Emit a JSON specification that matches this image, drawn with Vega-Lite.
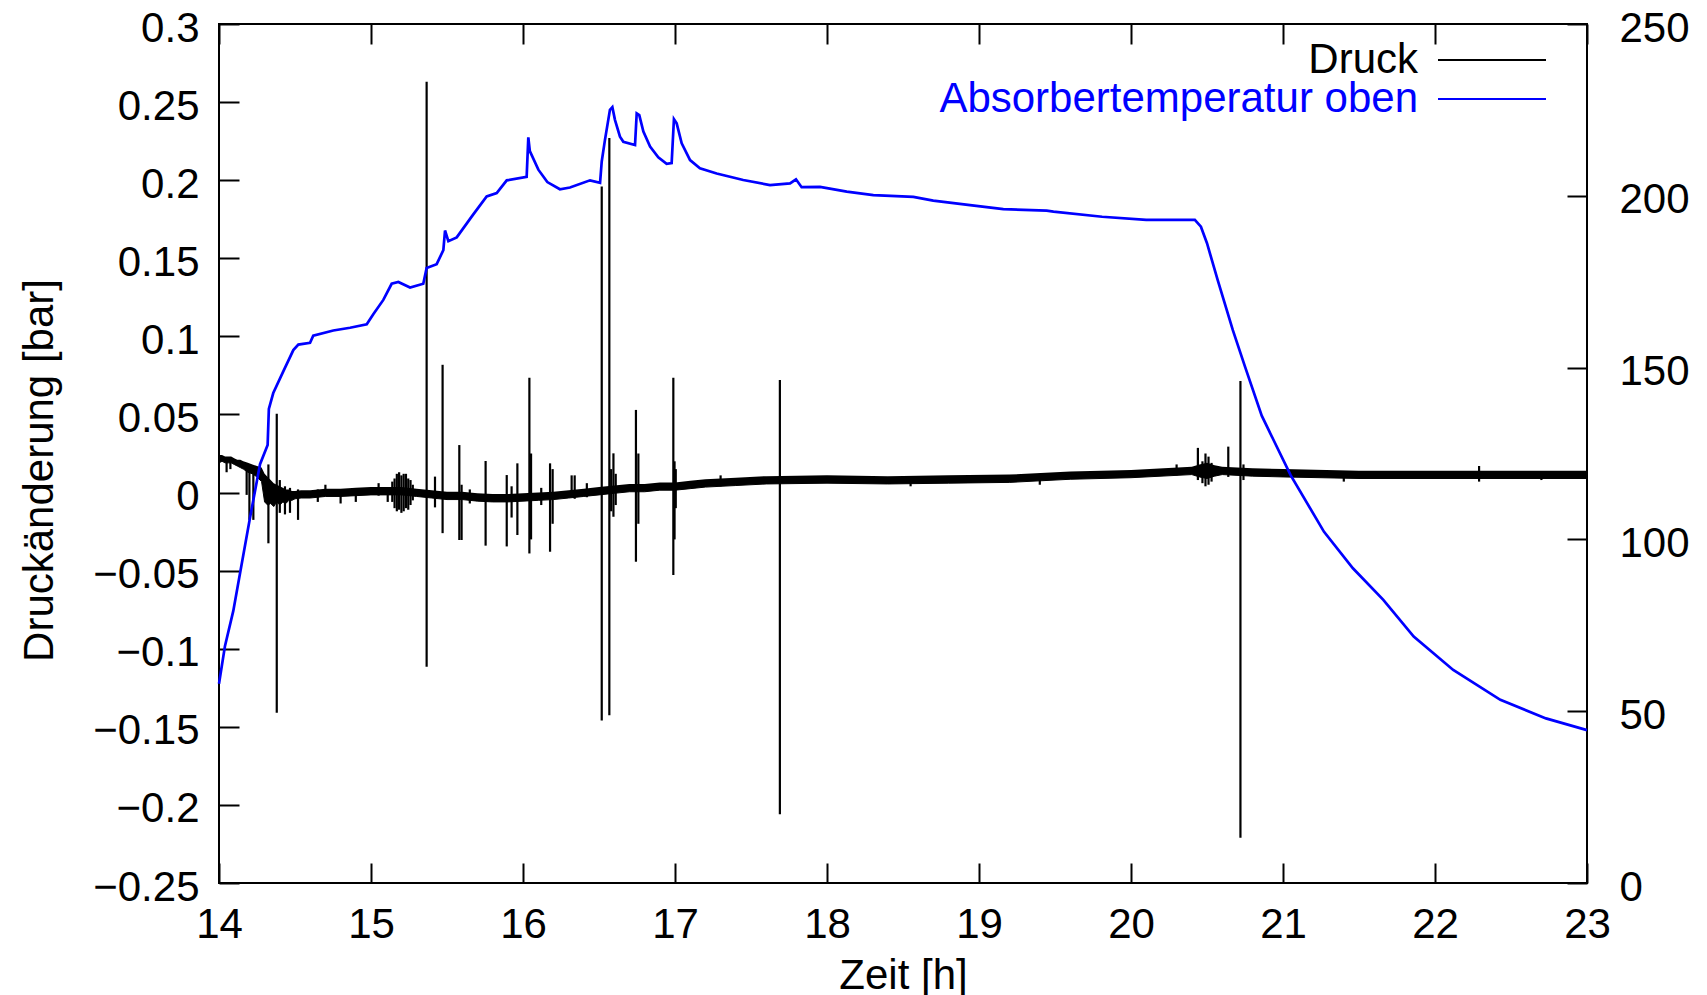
{
  "$schema": "https://vega.github.io/schema/vega-lite/v6.json",
  "width": 1368,
  "height": 859,
  "autosize": {"type": "none"},
  "padding": {"left": 219, "top": 24, "right": 120, "bottom": 112},
  "background": "white",
  "config": {
    "view": {"stroke": "black", "strokeWidth": 2},
    "font": "Liberation Sans",
    "axis": {
      "labelFont": "Liberation Sans", "labelFontSize": 42, "labelColor": "black",
      "titleFont": "Liberation Sans", "titleFontSize": 42, "titleFontWeight": "normal", "titleColor": "black",
      "tickColor": "black", "tickWidth": 2, "tickSize": -20,
      "domain": false, "grid": false, "labelOverlap": false, "labelFlush": false, "labelBound": false
    },
    "legend": {
      "orient": "none", "title": null, "symbolType": "M-10,0L10,0", "symbolSize": 116.64, "symbolStrokeWidth": 2,
      "labelFont": "Liberation Sans", "labelFontSize": 42, "labelAlign": "right", "labelOffset": -95,
      "labelBaseline": "middle", "padding": 0, "labelLimit": 800
    }
  },
  "datasets": {
    "band": [
      {"t":14.000,"lo":0.019,"hi":0.024},{"t":14.020,"lo":0.020,"hi":0.024},{"t":14.040,"lo":0.019,"hi":0.023},
      {"t":14.060,"lo":0.019,"hi":0.023},{"t":14.080,"lo":0.019,"hi":0.023},{"t":14.100,"lo":0.018,"hi":0.022},
      {"t":14.120,"lo":0.017,"hi":0.021},{"t":14.140,"lo":0.016,"hi":0.021},{"t":14.160,"lo":0.015,"hi":0.020},
      {"t":14.190,"lo":0.013,"hi":0.019},{"t":14.220,"lo":0.012,"hi":0.018},{"t":14.250,"lo":0.010,"hi":0.017},
      {"t":14.280,"lo":0.007,"hi":0.016},{"t":14.300,"lo":-0.006,"hi":0.012},{"t":14.320,"lo":-0.008,"hi":0.010},
      {"t":14.340,"lo":-0.007,"hi":0.008},{"t":14.360,"lo":-0.009,"hi":0.006},{"t":14.380,"lo":-0.006,"hi":0.005},
      {"t":14.400,"lo":-0.008,"hi":0.004},{"t":14.420,"lo":-0.006,"hi":0.003},{"t":14.440,"lo":-0.007,"hi":0.002},
      {"t":14.460,"lo":-0.005,"hi":0.002},{"t":14.480,"lo":-0.005,"hi":0.001},{"t":14.500,"lo":-0.004,"hi":0.001},
      {"t":14.540,"lo":-0.0035,"hi":0.0015},{"t":14.600,"lo":-0.0035,"hi":0.0015},{"t":14.700,"lo":-0.0025,"hi":0.0025},
      {"t":14.800,"lo":-0.0025,"hi":0.0025},{"t":14.900,"lo":-0.002,"hi":0.003},{"t":15.000,"lo":-0.0015,"hi":0.0035},
      {"t":15.100,"lo":-0.0015,"hi":0.0035},{"t":15.200,"lo":-0.0015,"hi":0.0035},{"t":15.300,"lo":-0.0025,"hi":0.0025},
      {"t":15.400,"lo":-0.0035,"hi":0.0015},
      {"t":15.500,"lo":-0.0045,"hi":0.0005},{"t":15.600,"lo":-0.0045,"hi":0.0005},{"t":15.700,"lo":-0.0055,"hi":-0.0005},
      {"t":15.800,"lo":-0.006,"hi":-0.001},{"t":15.900,"lo":-0.006,"hi":-0.001},{"t":16.000,"lo":-0.0055,"hi":-0.0005},
      {"t":16.100,"lo":-0.005,"hi":0.000},{"t":16.200,"lo":-0.0045,"hi":0.0005},{"t":16.300,"lo":-0.0035,"hi":0.0015},
      {"t":16.400,"lo":-0.0025,"hi":0.0025},{"t":16.500,"lo":-0.0015,"hi":0.0035},{"t":16.600,"lo":-0.0005,"hi":0.0045},
      {"t":16.700,"lo":0.0005,"hi":0.0055},{"t":16.800,"lo":0.0005,"hi":0.0055},{"t":16.900,"lo":0.0015,"hi":0.0065},
      {"t":17.000,"lo":0.0015,"hi":0.0065},{"t":17.100,"lo":0.0025,"hi":0.0075},{"t":17.200,"lo":0.0035,"hi":0.0085},
      {"t":17.400,"lo":0.0045,"hi":0.0095},{"t":17.600,"lo":0.0055,"hi":0.0105},{"t":18.000,"lo":0.006,"hi":0.011},
      {"t":18.400,"lo":0.0055,"hi":0.0105},{"t":18.800,"lo":0.006,"hi":0.011},{"t":19.200,"lo":0.0065,"hi":0.0115},
      {"t":19.600,"lo":0.0085,"hi":0.0135},{"t":20.000,"lo":0.0095,"hi":0.0145},{"t":20.400,"lo":0.0115,"hi":0.0165},
      {"t":20.450,"lo":0.010,"hi":0.018},{"t":20.500,"lo":0.009,"hi":0.019},{"t":20.550,"lo":0.0105,"hi":0.0175},
      {"t":20.600,"lo":0.0115,"hi":0.0165},{"t":20.800,"lo":0.0105,"hi":0.0155},{"t":21.000,"lo":0.010,"hi":0.015},
      {"t":21.500,"lo":0.009,"hi":0.014},{"t":22.000,"lo":0.009,"hi":0.014},{"t":23.000,"lo":0.009,"hi":0.014}
    ],
    "spikes": [
      {"t":14.050,"lo":0.013,"hi":0.022},{"t":14.075,"lo":0.015,"hi":0.022},{"t":14.182,"lo":-0.0015,"hi":0.018},
      {"t":14.200,"lo":-0.0175,"hi":0.016},{"t":14.226,"lo":-0.0175,"hi":0.015},{"t":14.325,"lo":-0.0325,"hi":0.018},
      {"t":14.380,"lo":-0.141,"hi":0.0505},{"t":14.400,"lo":-0.013,"hi":0.008},{"t":14.434,"lo":-0.014,"hi":0.004},
      {"t":14.467,"lo":-0.013,"hi":0.003},{"t":14.520,"lo":-0.0175,"hi":0.002},{"t":14.650,"lo":-0.006,"hi":0.002},
      {"t":14.700,"lo":-0.002,"hi":0.005},{"t":14.800,"lo":-0.007,"hi":0.002},{"t":14.900,"lo":-0.006,"hi":0.002},
      {"t":15.050,"lo":-0.002,"hi":0.006},{"t":15.110,"lo":-0.006,"hi":0.003},
      {"t":15.140,"lo":-0.006,"hi":0.007},{"t":15.155,"lo":-0.010,"hi":0.009},{"t":15.170,"lo":-0.012,"hi":0.012},
      {"t":15.185,"lo":-0.011,"hi":0.013},{"t":15.200,"lo":-0.013,"hi":0.011},{"t":15.215,"lo":-0.012,"hi":0.012},
      {"t":15.230,"lo":-0.010,"hi":0.012},{"t":15.245,"lo":-0.011,"hi":0.009},{"t":15.260,"lo":-0.008,"hi":0.008},
      {"t":15.275,"lo":-0.005,"hi":0.005},
      {"t":15.366,"lo":-0.1115,"hi":0.263},{"t":15.421,"lo":-0.0095,"hi":0.0102},
      {"t":15.471,"lo":-0.026,"hi":0.0818},{"t":15.581,"lo":-0.0304,"hi":0.0304},{"t":15.596,"lo":-0.0304,"hi":0.005},
      {"t":15.650,"lo":-0.007,"hi":0.002},
      {"t":15.754,"lo":-0.034,"hi":0.0202},{"t":15.893,"lo":-0.0345,"hi":0.0112},{"t":15.925,"lo":-0.016,"hi":0.004},
      {"t":15.963,"lo":-0.0272,"hi":0.0187},{"t":16.042,"lo":-0.039,"hi":0.0735},{"t":16.053,"lo":-0.030,"hi":0.025},
      {"t":16.120,"lo":-0.008,"hi":0.003},
      {"t":16.178,"lo":-0.0379,"hi":0.0187},{"t":16.195,"lo":-0.020,"hi":0.015},{"t":16.320,"lo":-0.003,"hi":0.011},
      {"t":16.340,"lo":-0.004,"hi":0.011},{"t":16.420,"lo":-0.003,"hi":0.006},
      {"t":16.518,"lo":-0.146,"hi":0.196},{"t":16.568,"lo":-0.1426,"hi":0.227},
      {"t":16.580,"lo":-0.012,"hi":0.015},{"t":16.595,"lo":-0.0155,"hi":0.0251},{"t":16.610,"lo":-0.008,"hi":0.012},
      {"t":16.743,"lo":-0.0443,"hi":0.0529},{"t":16.759,"lo":-0.020,"hi":0.025},
      {"t":16.989,"lo":-0.0528,"hi":0.0735},{"t":16.997,"lo":-0.030,"hi":0.020},{"t":17.005,"lo":-0.010,"hi":0.015},
      {"t":17.300,"lo":0.004,"hi":0.011},{"t":17.690,"lo":-0.206,"hi":0.072},{"t":18.550,"lo":0.004,"hi":0.010},
      {"t":19.400,"lo":0.005,"hi":0.012},{"t":20.300,"lo":0.011,"hi":0.018},
      {"t":20.440,"lo":0.008,"hi":0.0286},{"t":20.470,"lo":0.006,"hi":0.020},{"t":20.490,"lo":0.004,"hi":0.025},
      {"t":20.510,"lo":0.005,"hi":0.023},{"t":20.530,"lo":0.007,"hi":0.019},
      {"t":20.640,"lo":0.010,"hi":0.0294},{"t":20.720,"lo":-0.221,"hi":0.0714},{"t":20.740,"lo":0.008,"hi":0.018},
      {"t":21.400,"lo":0.007,"hi":0.013},{"t":22.290,"lo":0.007,"hi":0.017},{"t":22.700,"lo":0.008,"hi":0.013}
    ],
    "temp": [
      {"t":14.000,"T":58.0},{"t":14.039,"T":68.9},{"t":14.094,"T":79.2},{"t":14.149,"T":92.8},{"t":14.204,"T":106.3},
      {"t":14.270,"T":121.9},{"t":14.320,"T":127.5},{"t":14.328,"T":138.0},{"t":14.357,"T":142.6},{"t":14.423,"T":148.9},
      {"t":14.489,"T":155.1},{"t":14.522,"T":156.7},{"t":14.599,"T":157.2},{"t":14.620,"T":159.3},{"t":14.752,"T":160.8},
      {"t":14.862,"T":161.6},{"t":14.972,"T":162.6},{"t":15.015,"T":165.5},{"t":15.081,"T":169.7},{"t":15.136,"T":174.4},
      {"t":15.180,"T":174.9},{"t":15.257,"T":173.3},{"t":15.344,"T":174.4},{"t":15.366,"T":179.0},{"t":15.432,"T":180.1},
      {"t":15.476,"T":184.2},{"t":15.487,"T":189.9},{"t":15.509,"T":186.8},{"t":15.564,"T":187.9},{"t":15.673,"T":194.6},
      {"t":15.761,"T":199.8},{"t":15.827,"T":200.8},{"t":15.893,"T":204.5},{"t":16.024,"T":205.5},{"t":16.035,"T":217.0},
      {"t":16.045,"T":213.0},{"t":16.101,"T":207.6},{"t":16.160,"T":204.0},{"t":16.243,"T":201.9},{"t":16.309,"T":202.4},
      {"t":16.441,"T":204.5},{"t":16.507,"T":203.8},{"t":16.518,"T":210.0},{"t":16.539,"T":216.2},{"t":16.572,"T":225.0},
      {"t":16.588,"T":225.8},{"t":16.605,"T":222.1},{"t":16.638,"T":217.2},{"t":16.660,"T":215.7},{"t":16.737,"T":214.8},
      {"t":16.748,"T":224.0},{"t":16.765,"T":223.5},{"t":16.792,"T":218.7},{"t":16.836,"T":214.3},{"t":16.890,"T":211.2},
      {"t":16.945,"T":209.3},{"t":16.978,"T":209.5},{"t":16.993,"T":222.3},{"t":17.011,"T":221.1},{"t":17.044,"T":215.3},
      {"t":17.099,"T":210.4},{"t":17.164,"T":208.0},{"t":17.274,"T":206.5},{"t":17.449,"T":204.6},{"t":17.625,"T":203.1},
      {"t":17.757,"T":203.6},{"t":17.796,"T":204.8},{"t":17.833,"T":202.5},{"t":17.954,"T":202.6},{"t":18.130,"T":201.2},
      {"t":18.305,"T":200.2},{"t":18.568,"T":199.7},{"t":18.699,"T":198.6},{"t":18.941,"T":197.3},{"t":19.160,"T":196.1},
      {"t":19.445,"T":195.7},{"t":19.490,"T":195.4},{"t":19.810,"T":193.9},{"t":20.100,"T":193.0},{"t":20.420,"T":193.0},
      {"t":20.460,"T":191.0},{"t":20.500,"T":186.2},{"t":20.570,"T":175.5},{"t":20.670,"T":160.9},{"t":20.750,"T":150.3},
      {"t":20.860,"T":136.0},{"t":21.050,"T":118.7},{"t":21.270,"T":102.2},{"t":21.460,"T":91.6},{"t":21.660,"T":82.4},
      {"t":21.860,"T":71.7},{"t":22.120,"T":62.0},{"t":22.430,"T":53.3},{"t":22.730,"T":47.9},{"t":23.000,"T":44.5}
    ]
  },
  "layer": [
    {
      "data": {"name": "band"},
      "encoding": {
        "x": {"field": "t", "type": "quantitative", "scale": {"domain": [14, 23], "nice": false, "zero": false},
              "axis": {"orient": "bottom", "values": [14,15,16,17,18,19,20,21,22,23], "format": "d",
                       "labelPadding": 41, "title": "Zeit [h]", "titleY": 105, "titleBaseline": "alphabetic"}},
        "y": {"field": "lo", "type": "quantitative", "scale": {"domain": [-0.25, 0.3], "nice": false, "zero": false},
              "axis": {"orient": "left", "values": [-0.25,-0.2,-0.15,-0.1,-0.05,0,0.05,0.1,0.15,0.2,0.25,0.3], "format": "~g",
                       "labelPadding": 40, "labelOffset": 4, "title": "Druckänderung [bar]", "titleX": -167, "titleY": 446,
                       "titleAngle": -90, "titleBaseline": "alphabetic", "titleAlign": "center"}}
      },
      "layer": [
        {"mark": {"type": "area", "color": "black"}, "encoding": {"y2": {"field": "hi"}}},
        {"data": {"name": "spikes"}, "mark": {"type": "rule", "color": "black", "strokeWidth": 2.2}, "encoding": {"y2": {"field": "hi"}}},
        {"mark": {"type": "line", "strokeWidth": 1},
         "encoding": {"color": {"datum": "Druck", "type": "nominal",
            "scale": {"domain": ["Druck"], "range": ["black"]},
            "legend": {"legendX": 1252, "legendY": 15, "labelColor": "black",
                       "encoding": {"symbols": {"stroke": {"value": "black"}, "strokeWidth": {"value": 2}, "opacity": {"value": 1}}}}}}}
      ]
    },
    {
      "data": {"name": "temp"},
      "mark": {"type": "line", "strokeWidth": 2.7},
      "encoding": {
        "x": {"field": "t", "type": "quantitative", "scale": {"domain": [14, 23], "nice": false, "zero": false},
              "axis": {"orient": "top", "values": [14,15,16,17,18,19,20,21,22,23], "labels": false, "title": null}},
        "y": {"field": "T", "type": "quantitative", "scale": {"domain": [0, 250], "nice": false, "zero": false},
              "axis": {"orient": "right", "values": [0,50,100,150,200,250], "format": "d", "labelPadding": 52, "labelOffset": 4, "title": null}},
        "stroke": {"datum": "Absorbertemperatur oben", "type": "nominal",
            "scale": {"domain": ["Absorbertemperatur oben"], "range": ["#0000ff"]},
            "legend": {"legendX": 1252, "legendY": 54, "labelColor": "#0000ff",
                       "encoding": {"symbols": {"stroke": {"value": "#0000ff"}, "strokeWidth": {"value": 2}, "opacity": {"value": 1}}}}}
      }
    }
  ],
  "resolve": {"scale": {"y": "independent"}, "axis": {"x": "independent"}}
}
